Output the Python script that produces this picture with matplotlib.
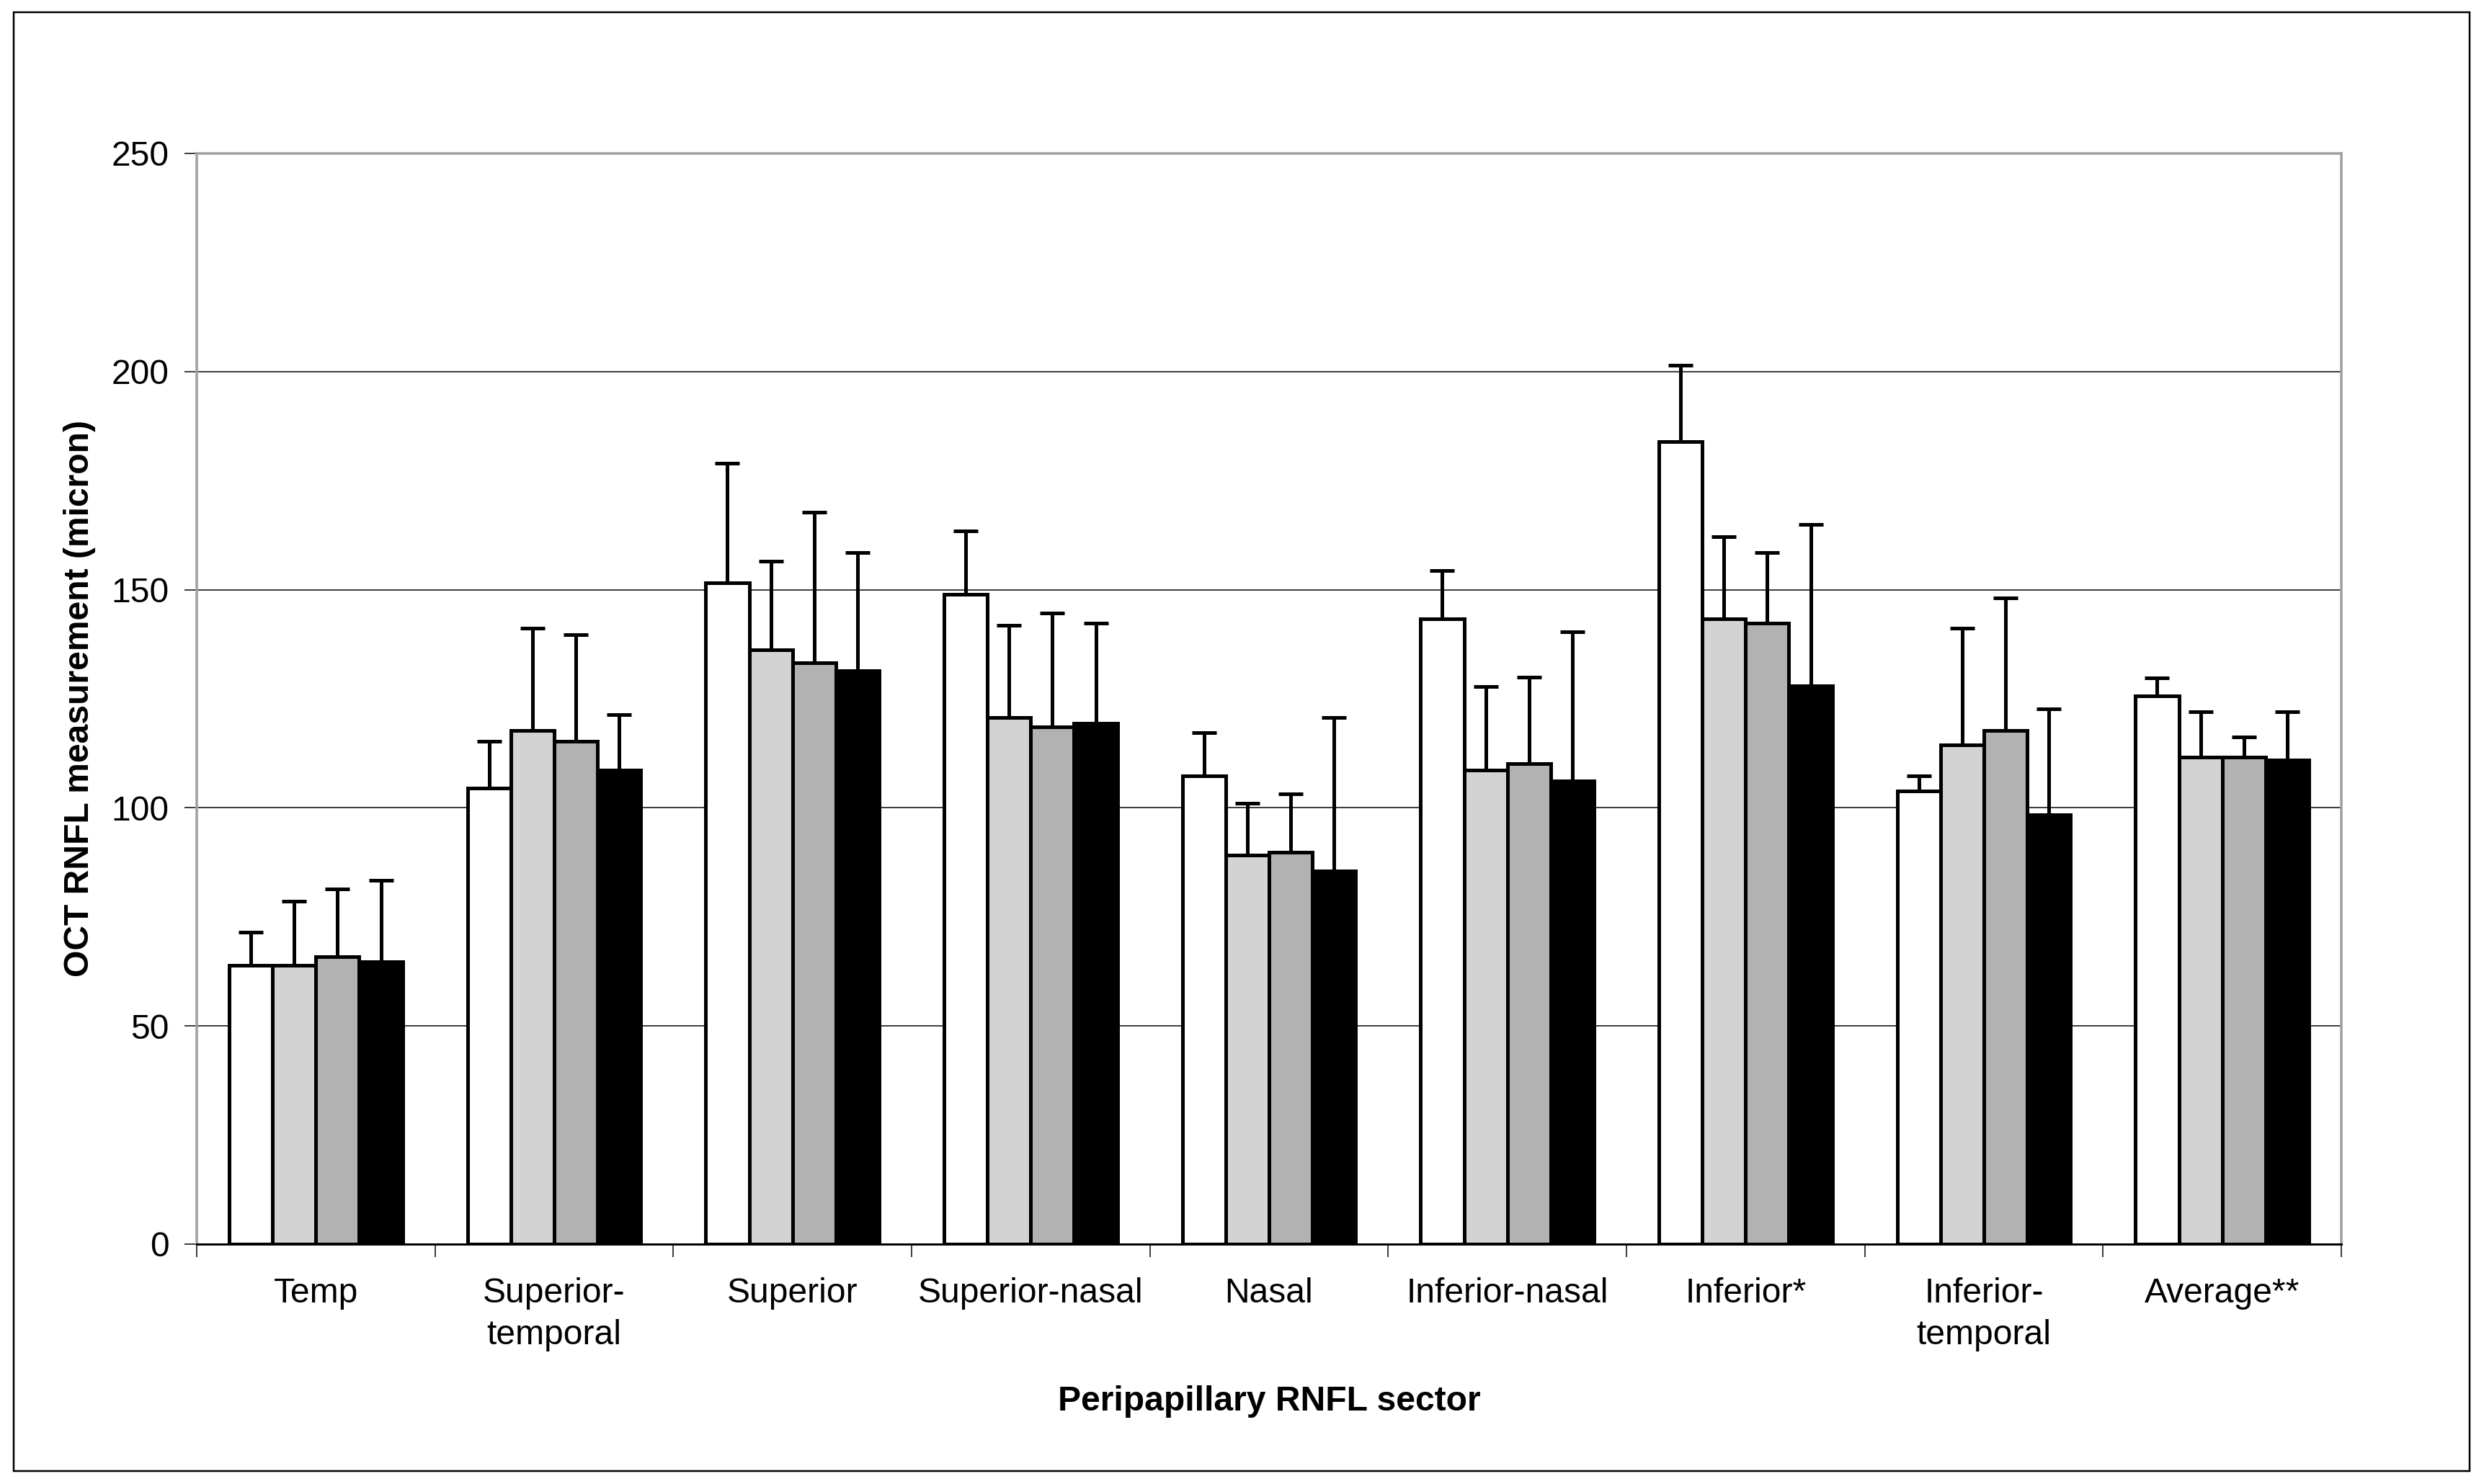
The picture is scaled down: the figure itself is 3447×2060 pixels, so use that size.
import matplotlib
matplotlib.use("Agg")
import matplotlib.pyplot as plt
from matplotlib import font_manager
from matplotlib.patches import Rectangle
import numpy as np

categories = ["Temp", "Superior-\ntemporal", "Superior", "Superior-nasal", "Nasal",
              "Inferior-nasal", "Inferior*", "Inferior-\ntemporal", "Average**"]

series_names = ["Group 1", "Group 2", "Group 3", "Group 4"]
means_1 = [63.9, 104.5, 151.6, 148.9, 107.4, 143.3, 183.9, 103.8, 125.6]
means_2 = [63.9, 117.8, 136.2, 120.7, 89.2, 108.7, 143.3, 114.5, 111.6]
means_3 = [65.9, 115.3, 133.3, 118.5, 89.9, 110.2, 142.4, 117.8, 111.6]
means_4 = [64.7, 108.7, 131.5, 119.4, 85.6, 106.2, 127.9, 98.4, 110.9]
sd_1 = [7.6, 10.8, 27.4, 14.6, 9.8, 11.1, 17.5, 3.6, 4.2]
sd_2 = [14.7, 23.3, 20.4, 21.1, 11.8, 19.1, 18.9, 26.6, 10.5]
sd_3 = [15.5, 24.4, 34.4, 26.1, 13.3, 19.8, 16.2, 30.4, 4.7]
sd_4 = [18.7, 12.7, 27.1, 23.0, 35.1, 34.2, 37.1, 24.3, 11.2]
colors = ["#ffffff", "#d3d3d3", "#b2b2b2", "#000000"]
yticks = [0, 50, 100, 150, 200, 250]

avail = {f.name for f in font_manager.fontManager.ttflist}
narrow = "Liberation Sans Narrow" if "Liberation Sans Narrow" in avail else "Liberation Sans"
regular = "Liberation Sans" if "Liberation Sans" in avail else "DejaVu Sans"

W, H = 3448, 2060
DPI = 100
PX = 72.0 / DPI  # points per pixel

fig = plt.figure(figsize=(W / DPI, H / DPI), dpi=DPI)
fig.patch.set_facecolor("white")

# outer frame
fig.patches.append(Rectangle((19 / W, 1 - 2042 / H), (3427 - 19) / W, (2042 - 17) / H,
                             transform=fig.transFigure, fill=False, edgecolor="black",
                             linewidth=2.5 * PX, zorder=0))

L, R, T, B = 273, 3249, 213, 1727
ax = fig.add_axes([L / W, 1 - B / H, (R - L) / W, (B - T) / H])

means = [means_1, means_2, means_3, means_4]
sds = [sd_1, sd_2, sd_3, sd_4]
n = len(categories)
x = np.arange(n)
w = 1 / 5.5
for j in range(4):
    xs = x + (j - 1.5) * w
    ax.bar(xs, means[j], width=w, color=colors[j], edgecolor="black",
           linewidth=5 * PX, zorder=3, label=series_names[j])
    ax.errorbar(xs, means[j], yerr=[np.zeros(n), sds[j]], fmt="none", ecolor="black",
                elinewidth=5 * PX, capsize=17 * PX, capthick=5 * PX, zorder=4)

ax.set_xlim(-0.5, n - 0.5)
ax.set_ylim(0, 250)
ax.set_yticks(yticks)
ax.set_yticklabels([str(v) for v in yticks], fontsize=48 * PX, family=[regular])
ax.tick_params(axis="y", length=12, width=1.5 * PX, pad=22 * PX, color="black")

ax.set_xticks(np.arange(n + 1) - 0.5)
ax.set_xticklabels([])
ax.tick_params(axis="x", which="major", length=13, width=1.5 * PX, color="black")
ax.set_xticks(x, minor=True)
ax.set_xticklabels(categories, minor=True, fontsize=48 * PX, family=[narrow, regular],
                   linespacing=1.38)
ax.tick_params(axis="x", which="minor", length=0, pad=46 * PX)

ax.yaxis.grid(True, color="black", linewidth=1.5 * PX, zorder=1)
ax.set_axisbelow(True)

for s in ["top", "right", "left"]:
    ax.spines[s].set_color("#a0a0a0")
    ax.spines[s].set_linewidth(3.5 * PX)
ax.spines["bottom"].set_color("black")
ax.spines["bottom"].set_linewidth(3 * PX)
for sp in ax.spines.values():
    sp.set_zorder(5)

fig.text(111 / W, 1 - 970 / H, "OCT RNFL measurement (micron)", rotation=90,
         ha="center", va="center", fontsize=48 * PX, fontweight="bold", family=[regular])
fig.text(1761 / W, 1 - 1945 / H, "Peripapillary RNFL sector", ha="center", va="center",
         fontsize=48 * PX, fontweight="bold", family=[narrow, regular])

fig.savefig("out.png", dpi=DPI, facecolor="white")
